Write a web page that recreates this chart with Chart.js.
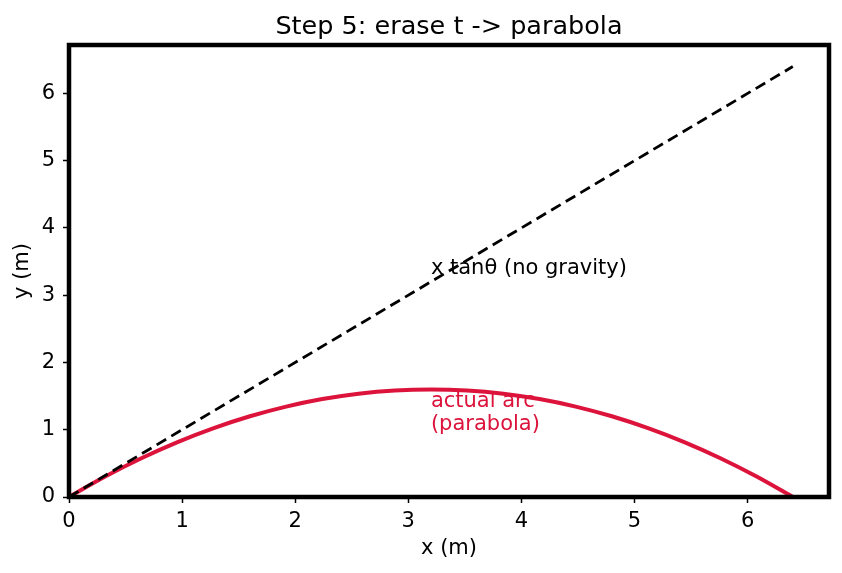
<!DOCTYPE html>
<html>
<head>
<meta charset="utf-8">
<script src="https://cdn.jsdelivr.net/npm/chart.js@4"></script>
<style>
  html, body { margin: 0; padding: 0; background: #fff; }
  #wrap { width: 842px; height: 573px; }
</style>
</head>
<body>
<div id="wrap"><canvas id="canvas" width="842" height="573"></canvas></div>
<script>
// values
let arcX = [0, 0.32, 0.64, 0.96, 1.28, 1.6, 1.92, 2.24, 2.56, 2.88, 3.2,
            3.52, 3.84, 4.16, 4.48, 4.8, 5.12, 5.44, 5.76, 6.08, 6.4];
let arcY = [0, 0.304, 0.576, 0.816, 1.024, 1.2, 1.344, 1.456, 1.536, 1.584, 1.6,
            1.584, 1.536, 1.456, 1.344, 1.2, 1.024, 0.816, 0.576, 0.304, 0];
let lineX = [0, 6.4];
let lineY = [0, 6.4];
let tickValues = [0, 1, 2, 3, 4, 5, 6];
let axisMax = 6.72;

let titleText = 'Step 5: erase t -> parabola';
let noGravityLabel = 'x tan\u03b8 (no gravity)';
let arcLabel = ['actual arc', '(parabola)'];

let font = "'DejaVu Sans', sans-serif";
let crimson = '#dc143c';

function toPoints(xs, ys) {
  let pts = [];
  for (let i = 0; i < xs.length; i++) pts.push({x: xs[i], y: ys[i]});
  return pts;
}

// notes go under the lines, title and frame on top
let extras = {
  id: 'extras',
  beforeDatasetsDraw(chart) {
    let ctx = chart.ctx;
    let sx = chart.scales.x;
    let left = sx.getPixelForValue(3.2);
    ctx.save();
    ctx.font = '21px ' + font;
    ctx.textAlign = 'left';
    ctx.textBaseline = 'alphabetic';
    ctx.fillStyle = '#000';
    ctx.fillText(noGravityLabel, left, 274);
    ctx.fillStyle = crimson;
    ctx.fillText(arcLabel[0], left, 407);
    ctx.fillText(arcLabel[1], left, 430);
    ctx.restore();
  },
  afterDatasetsDraw(chart) {
    let ctx = chart.ctx;
    let a = chart.chartArea;
    ctx.save();
    ctx.strokeStyle = '#000';
    ctx.lineWidth = 4.5;
    ctx.strokeRect(a.left, a.top, a.right - a.left, a.bottom - a.top);

    ctx.fillStyle = '#000';
    ctx.font = '25.5px ' + font;
    ctx.textAlign = 'center';
    ctx.textBaseline = 'alphabetic';
    ctx.fillText(titleText, (a.left + a.right) / 2, 34);
    ctx.restore();
  }
};

function integerTicks(scale) {
  scale.ticks = tickValues.map(v => ({value: v}));
}

let options = {
  type: 'scatter',
  data: {
    datasets: [
      {
        data: toPoints(lineX, lineY),
        showLine: true,
        borderColor: '#000',
        borderWidth: 2.8,
        borderDash: [11, 6],
        pointRadius: 0
      },
      {
        data: toPoints(arcX, arcY),
        showLine: true,
        borderColor: crimson,
        borderWidth: 4,
        cubicInterpolationMode: 'monotone',
        pointRadius: 0
      }
    ]
  },
  options: {
    responsive: false,
    animation: false,
    layout: { padding: { left: 0, right: 13, top: 45, bottom: 0 } },
    plugins: {
      legend: { display: false },
      tooltip: { enabled: false },
      title: { display: false }
    },
    scales: {
      x: {
        type: 'linear',
        min: 0,
        max: axisMax,
        afterBuildTicks: integerTicks,
        afterFit(scale) { scale.height = 76; },
        grid: { drawOnChartArea: false, color: '#000', tickLength: 6, tickWidth: 1.5 },
        border: { display: false },
        ticks: { color: '#000', font: { family: font, size: 21 }, padding: 6, maxRotation: 0 },
        title: { display: true, text: 'x (m)', color: '#000', font: { family: font, size: 21 }, padding: { top: 0, bottom: 12 } }
      },
      y: {
        type: 'linear',
        min: 0,
        max: axisMax,
        afterBuildTicks: integerTicks,
        afterFit(scale) { scale.width = 69; },
        grid: { drawOnChartArea: false, color: '#000', tickLength: 6, tickWidth: 1.5 },
        border: { display: false },
        ticks: { color: '#000', font: { family: font, size: 21 }, padding: 8 },
        title: { display: true, text: 'y (m)', color: '#000', font: { family: font, size: 21 }, padding: { top: 10, bottom: 4 } }
      }
    }
  },
  plugins: [extras]
};

let chart = new Chart(document.getElementById('canvas'), options);
</script>
</body>
</html>
